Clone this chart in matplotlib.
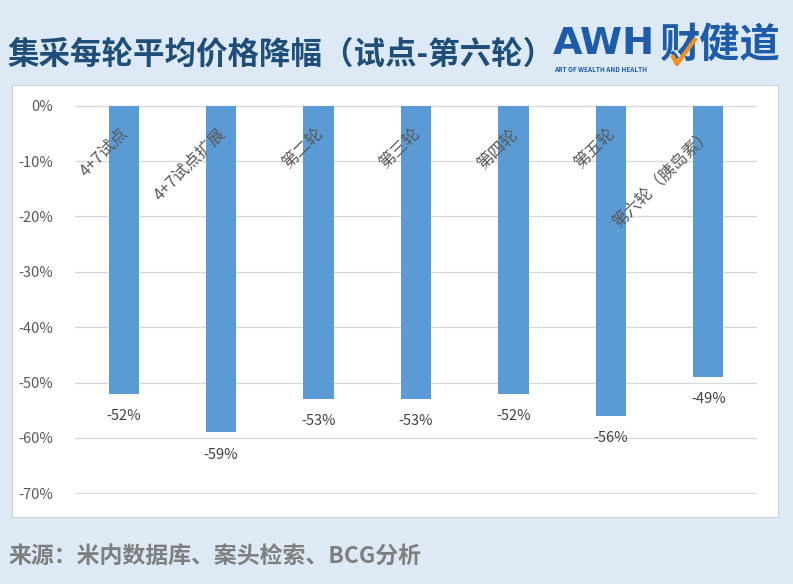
import matplotlib
matplotlib.use("Agg")
import matplotlib.pyplot as plt
from matplotlib.lines import Line2D
from matplotlib.ticker import FuncFormatter

plt.rcParams['font.family'] = ['Noto Sans CJK SC', 'DejaVu Sans']

categories = ["4+7试点", "4+7试点扩展", "第二轮", "第三轮", "第四轮", "第五轮", "第六轮（胰岛素）"]
values = [-52, -59, -53, -53, -52, -56, -49]
yticks = [0, -10, -20, -30, -40, -50, -60, -70]

W, H = 793, 584
fig = plt.figure(figsize=(W / 100, H / 100), dpi=100)
fig.patch.set_facecolor("#DDEAF6")

# white panel
bg = fig.add_axes([12 / W, 1 - 517 / H, (778 - 12) / W, (517 - 85) / H], zorder=0)
bg.set_xticks([]); bg.set_yticks([])
bg.set_facecolor("white")
for s in bg.spines.values():
    s.set_color("#D0D0D0"); s.set_linewidth(0.8)

ax = fig.add_axes([75 / W, 1 - 494 / H, (757 - 75) / W, (494 - 105) / H], zorder=1)
ax.set_facecolor("none")
x = list(range(len(categories)))
ax.bar(x, values, width=0.31, color="#5B9BD5", zorder=3)
ax.set_xlim(-0.5, len(categories) - 0.5)
ax.set_ylim(-70.15, 0.15)
ax.set_yticks(yticks)
ax.yaxis.set_major_formatter(FuncFormatter(lambda v, p: f"{int(round(v))}%"))
ax.tick_params(axis='y', length=0, labelsize=10.5, labelcolor="#595959", pad=16)
ax.set_xticks([])
ax.grid(axis='y', color="#D9D9D9", linewidth=1, zorder=0)
for s in ax.spines.values():
    s.set_visible(False)

for xi, v, c in zip(x, values, categories):
    ax.annotate(f"{v}%", (xi, v), xytext=(0, -11), textcoords="offset points",
                ha="center", va="top", fontsize=10.5, color="#404040")
    ax.annotate(c, (xi, 0), xytext=(-3, -14), textcoords="offset points",
                ha="right", va="top", rotation=45, rotation_mode="anchor",
                fontsize=12, color="#595959", zorder=4)

# title
fig.text(8 / W, 1 - 55 / H, "集采每轮平均价格降幅（试点-第六轮）", fontsize=22.7,
         fontweight="bold", color="#1F4E79", ha="left", va="center")

# logo
logo_c = "#1E5BA8"
fig.text(553 / W, 1 - 44 / H, "AWH", fontsize=27.5, fontweight="bold", color=logo_c,
         ha="left", va="center", family=["DejaVu Sans"])
fig.text(554 / W, 1 - 70 / H, "ART OF WEALTH AND HEALTH", fontsize=4.6, color=logo_c,
         ha="left", va="center", fontweight="bold")
fig.text(660 / W, 1 - 45 / H, "财健道", fontsize=29, fontweight="bold", color=logo_c,
         ha="left", va="center")
fig.lines.append(Line2D([672 / W, 677 / W, 696 / W], [1 - 55 / H, 1 - 64 / H, 1 - 38 / H],
                        transform=fig.transFigure, color="#F0901E", linewidth=3,
                        solid_capstyle="butt", zorder=5))

# source
fig.text(8 / W, 1 - 557 / H, "来源：米内数据库、案头检索、BCG分析", fontsize=16.5,
         fontweight="bold", color="#7F7F7F", ha="left", va="center")

fig.savefig("out.png", dpi=100, facecolor=fig.get_facecolor())
